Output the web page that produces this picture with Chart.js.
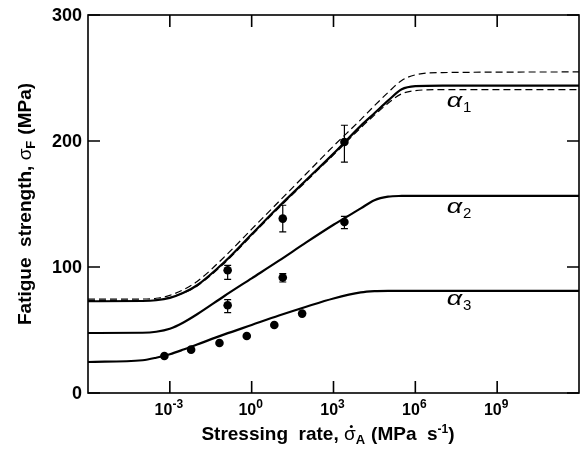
<!DOCTYPE html>
<html>
<head>
<meta charset="utf-8">
<script src="https://cdn.jsdelivr.net/npm/chart.js@4.4.1/dist/chart.umd.min.js"></script>
<style>
  html, body { margin: 0; padding: 0; background: #fff; }
  #wrap { width: 585px; height: 450px; }
</style>
</head>
<body>
<div id="wrap"><canvas id="chart" width="585" height="450"></canvas></div>
<script>
// stressing rate grid of the model curves, as powers of ten (MPa s-1)
const curveRateExp = [-6, -4, -3.5, -3, -2.5, -2, -1, 0, 1, 2, 3, 4, 4.5, 5, 5.5, 6, 7, 12];
// fatigue strength (MPa) along that grid
const alpha1      = [72.8, 73.0, 73.6, 75.5, 79.5, 85.5, 104, 126, 148, 169, 190, 212, 222, 232, 241, 243.5, 244, 244];
const alpha1Upper = [74.5, 74.6, 75.2, 77.5, 82, 88.5, 108, 130, 152, 174, 196, 217, 228, 238.5, 248, 252.5, 254.3, 254.8];
const alpha1Lower = [73.3, 73.4, 74.0, 75.8, 79.5, 85, 103, 125, 147, 168, 189, 210.5, 220.5, 230, 237.5, 240, 240.8, 240.8];
const alpha2      = [47.6, 47.8, 48.6, 51, 56, 62.5, 77, 91, 105, 119.5, 133.5, 146.5, 153, 155.8, 156.4, 156.5, 156.5, 156.5];
const alpha3      = [24.6, 26, 28, 30.8, 34.5, 38.5, 46.5, 54, 61.5, 68.5, 75, 79.8, 80.8, 81, 81, 81, 81, 81];

// measured points with scatter bars
const barRateExp = [-0.88, 1.14, 3.40];
const upperStrength = [97.4, 138.4, 199.2];
const upperLow = [90.2, 127.8, 183.3];
const upperHigh = [101.3, 149, 212.5];
const midStrength = [69.6, 91.6, 135.7];
const midLow = [63.8, 88.1, 130.5];
const midHigh = [74.1, 94.8, 140.2];
// measured points without bars
const lowRateExp = [-3.2, -2.22, -1.18, -0.18, 0.83, 1.85];
const lowStrength = [29.4, 34.4, 39.7, 45.2, 54, 63];

const xTickExp = [-3, 0, 3, 6, 9];
const yTicks = [0, 100, 200, 300];
const curveNames = ['1', '2', '3'];
const curveNameY = [227, 143, 70];
const curveNameExp = 7.15;

const pow10 = e => Math.pow(10, e);
const toXY = (exps, vals) => exps.map((e, i) => ({ x: pow10(e), y: vals[i] }));

const FONT = '"Liberation Sans", Arial, Helvetica, sans-serif';

function curve(vals, dashed) {
  return {
    data: toXY(curveRateExp, vals),
    showLine: true,
    borderColor: '#000',
    borderWidth: dashed ? 1.2 : 2.2,
    borderDash: dashed ? [7, 4] : [],
    pointRadius: 0,
    cubicInterpolationMode: 'monotone',
    order: dashed ? 3 : 2
  };
}

function points(exps, vals, low, high) {
  return {
    data: toXY(exps, vals),
    showLine: false,
    pointRadius: 4.3,
    pointBackgroundColor: '#000',
    pointBorderColor: '#000',
    pointBorderWidth: 0,
    errLow: low,
    errHigh: high,
    order: 1
  };
}

// write a row of text pieces (normal, sub, sup) centred on x
function drawRuns(ctx, runs, x, y) {
  ctx.textAlign = 'left';
  ctx.textBaseline = 'alphabetic';
  let total = 0;
  runs.forEach(r => { ctx.font = r.font; r.w = ctx.measureText(r.text).width; total += r.w + (r.gap || 0); });
  let cx = x - total / 2;
  runs.forEach(r => {
    ctx.font = r.font;
    ctx.fillText(r.text, cx, y + (r.dy || 0));
    if (r.dot) {
      ctx.beginPath();
      ctx.arc(cx + r.w / 2 + 1.5, y - 13.5, 1.5, 0, Math.PI * 2);
      ctx.fill();
    }
    cx += r.w + (r.gap || 0);
  });
}

const framePlugin = {
  id: 'frame',
  afterDatasetsDraw(chart) {
    const ctx = chart.ctx;
    const ys = chart.scales.y;
    ctx.save();
    ctx.strokeStyle = '#000';
    ctx.lineWidth = 1.2;
    chart.data.datasets.forEach((ds, di) => {
      if (!ds.errLow) return;
      const meta = chart.getDatasetMeta(di);
      meta.data.forEach((pt, i) => {
        const y1 = ys.getPixelForValue(ds.errLow[i]);
        const y2 = ys.getPixelForValue(ds.errHigh[i]);
        ctx.beginPath();
        ctx.moveTo(pt.x, y1); ctx.lineTo(pt.x, y2);
        ctx.moveTo(pt.x - 3.5, y1); ctx.lineTo(pt.x + 3.5, y1);
        ctx.moveTo(pt.x - 3.5, y2); ctx.lineTo(pt.x + 3.5, y2);
        ctx.stroke();
      });
    });
    ctx.restore();
  },
  afterDraw(chart) {
    const ctx = chart.ctx;
    const { left, right, top, bottom } = chart.chartArea;
    const xs = chart.scales.x, ys = chart.scales.y;
    ctx.save();
    ctx.strokeStyle = '#000';
    ctx.fillStyle = '#000';
    ctx.lineWidth = 1.6;
    ctx.strokeRect(left, top, right - left, bottom - top);

    // inward tick marks on all four sides
    ctx.beginPath();
    xTickExp.forEach(e => {
      const px = xs.getPixelForValue(pow10(e));
      ctx.moveTo(px, bottom); ctx.lineTo(px, bottom - 12);
      ctx.moveTo(px, top); ctx.lineTo(px, top + 12);
    });
    yTicks.forEach(v => {
      const py = ys.getPixelForValue(v);
      ctx.moveTo(left, py); ctx.lineTo(left + 12, py);
      ctx.moveTo(right, py); ctx.lineTo(right - 12, py);
    });
    ctx.stroke();

    // y tick labels
    ctx.font = 'bold 18px ' + FONT;
    ctx.textAlign = 'right';
    ctx.textBaseline = 'middle';
    yTicks.forEach(v => ctx.fillText(String(v), left - 6, ys.getPixelForValue(v) + 1));

    // x tick labels, 10 with a raised exponent
    xTickExp.forEach(e => {
      drawRuns(ctx, [
        { text: '10', font: 'bold 16px ' + FONT },
        { text: e < 0 ? '-' + (-e) : String(e), font: 'bold 12px ' + FONT, dy: -7 }
      ], xs.getPixelForValue(pow10(e)) - 1, 415);
    });

    // x axis title
    drawRuns(ctx, [
      { text: 'Stressing  rate, ', font: 'bold 19px ' + FONT },
      { text: 'σ', font: '19px ' + FONT, dot: true },
      { text: 'A', font: 'bold 13px ' + FONT, dy: 4, gap: 6 },
      { text: '(MPa  s', font: 'bold 19px ' + FONT },
      { text: '-1', font: 'bold 12px ' + FONT, dy: -7 },
      { text: ')', font: 'bold 19px ' + FONT }
    ], 328, 440);

    // y axis title, rotated
    ctx.save();
    ctx.translate(31, 204);
    ctx.rotate(-Math.PI / 2);
    drawRuns(ctx, [
      { text: 'Fatigue  strength, ', font: 'bold 19px ' + FONT },
      { text: 'σ', font: '19px ' + FONT },
      { text: 'F', font: 'bold 13px ' + FONT, dy: 4, gap: 6 },
      { text: '(MPa)', font: 'bold 19px ' + FONT }
    ], 0, 0);
    ctx.restore();

    // curve names: a wide italic alpha with a subscript index
    const nx = xs.getPixelForValue(pow10(curveNameExp));
    ctx.textAlign = 'left';
    ctx.textBaseline = 'alphabetic';
    curveNames.forEach((n, i) => {
      const ny = ys.getPixelForValue(curveNameY[i]);
      ctx.font = 'italic 20px ' + FONT;
      const w = ctx.measureText('α').width * 1.35;
      ctx.save();
      ctx.translate(nx, ny);
      ctx.scale(1.35, 1);
      ctx.fillText('α', 0, 0);
      ctx.restore();
      ctx.font = '15px ' + FONT;
      ctx.fillText(n, nx + w + 1, ny + 5);
    });
    ctx.restore();
  }
};

new Chart(document.getElementById('chart').getContext('2d'), {
  type: 'scatter',
  data: {
    datasets: [
      points(barRateExp, upperStrength, upperLow, upperHigh),
      points(barRateExp, midStrength, midLow, midHigh),
      points(lowRateExp, lowStrength),
      curve(alpha1, false),
      curve(alpha2, false),
      curve(alpha3, false),
      curve(alpha1Upper, true),
      curve(alpha1Lower, true)
    ]
  },
  options: {
    responsive: false,
    animation: false,
    layout: { padding: { left: 88, right: 6, top: 15, bottom: 57 } },
    plugins: { legend: { display: false }, tooltip: { enabled: false } },
    scales: {
      x: { type: 'logarithmic', min: 1e-6, max: 1e12, display: false },
      y: { type: 'linear', min: 0, max: 300, display: false }
    }
  },
  plugins: [framePlugin]
});
</script>
</body>
</html>
